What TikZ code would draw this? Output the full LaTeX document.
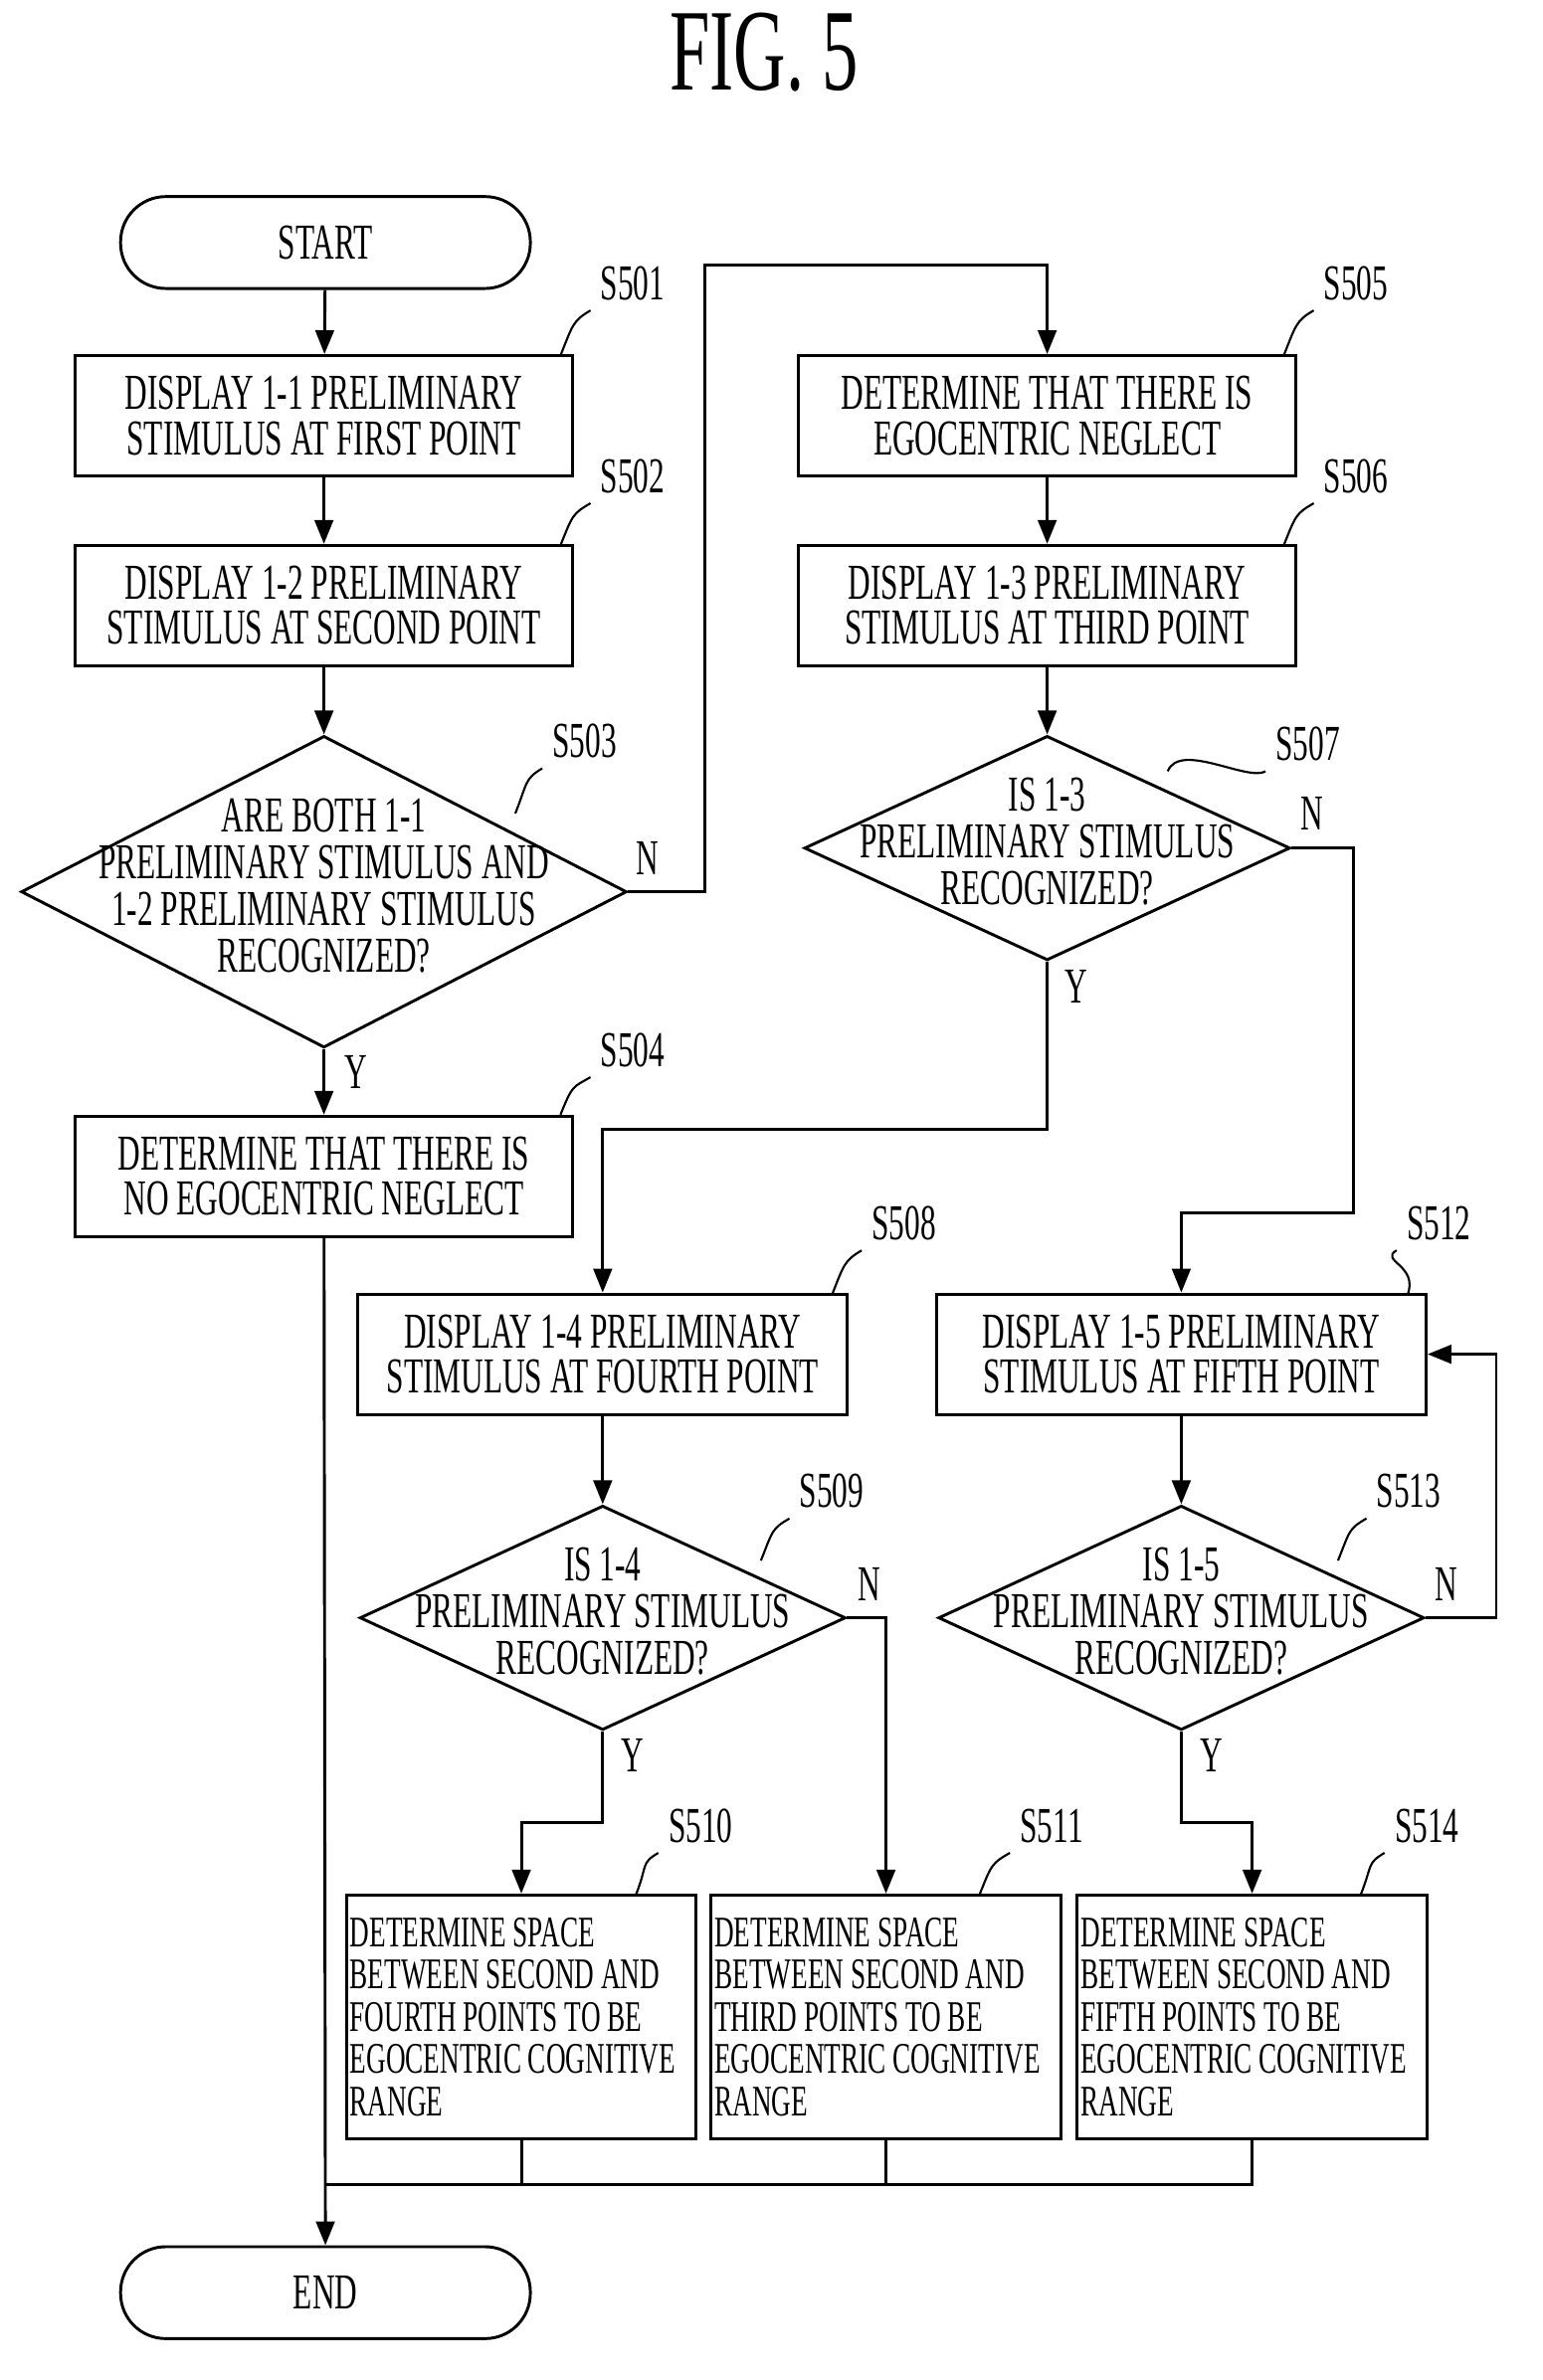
\documentclass[tikz,border=0pt]{standalone}
\usepackage{fontspec}
\setmainfont[FakeStretch=0.62]{Liberation Serif}
\usetikzlibrary{shapes.geometric,arrows.meta}

\begin{document}
\begin{tikzpicture}[x=0.02cm,y=-0.02cm,line width=1.1pt,
  font=\fontsize{19}{17}\selectfont]

\tikzstyle{term} = [draw,rounded corners=0.6cm,minimum width=5.44cm,minimum height=1.22cm]
\tikzstyle{proc} = [draw,minimum width=6.6cm,minimum height=1.6cm,align=center,inner sep=1pt]
\tikzstyle{res} = [draw,minimum width=4.64cm,minimum height=3.24cm,text width=4.55cm,align=flush left,
  inner sep=1pt,font=\fontsize{16.5}{16}\selectfont]
\tikzstyle{dec} = [draw,diamond,minimum width=6.45cm,minimum height=2.98cm,inner sep=0]
\tikzstyle{steplabel} = [font=\fontsize{19}{17}\selectfont]
\tikzstyle{flow} = [-{Triangle[length=9pt,width=7pt]}]

\useasboundingbox (0,0) rectangle (1024,1580);

\node[font=\fontsize{44}{44}\selectfont] (title) at (507,35) {FIG. 5};

\node[term] (start) at (216,161) {START};
\node[proc] (s501) at (215,276) {DISPLAY 1-1 PRELIMINARY\\STIMULUS AT FIRST POINT};
\node[proc] (s502) at (215,402) {DISPLAY 1-2 PRELIMINARY\\STIMULUS AT SECOND POINT};
\node[dec,minimum width=8.04cm,minimum height=4.14cm,
  label={center:{\begin{tabular}{c}ARE BOTH 1-1\\PRELIMINARY STIMULUS AND\\1-2 PRELIMINARY STIMULUS\\RECOGNIZED?\end{tabular}}}] (s503) at (215,592) {};
\node[proc] (s504) at (215,781) {DETERMINE THAT THERE IS\\NO EGOCENTRIC NEGLECT};
\node[proc] (s505) at (695,276) {DETERMINE THAT THERE IS\\EGOCENTRIC NEGLECT};
\node[proc] (s506) at (695,402) {DISPLAY 1-3 PRELIMINARY\\STIMULUS AT THIRD POINT};
\node[dec,label={center:{\begin{tabular}{c}IS 1-3\\PRELIMINARY STIMULUS\\RECOGNIZED?\end{tabular}}}] (s507) at (695,563) {};
\node[proc,minimum width=6.5cm] (s508) at (400,899) {DISPLAY 1-4 PRELIMINARY\\STIMULUS AT FOURTH POINT};
\node[dec,label={center:{\begin{tabular}{c}IS 1-4\\PRELIMINARY STIMULUS\\RECOGNIZED?\end{tabular}}}] (s509) at (400,1074) {};
\node[proc,minimum width=6.5cm] (s512) at (784,899) {DISPLAY 1-5 PRELIMINARY\\STIMULUS AT FIFTH POINT};
\node[dec,label={center:{\begin{tabular}{c}IS 1-5\\PRELIMINARY STIMULUS\\RECOGNIZED?\end{tabular}}}] (s513) at (784,1074) {};
\node[res] (s510) at (346,1339) {DETERMINE SPACE\\BETWEEN SECOND AND\\FOURTH POINTS TO BE\\EGOCENTRIC COGNITIVE\\RANGE};
\node[res] (s511) at (588,1339) {DETERMINE SPACE\\BETWEEN SECOND AND\\THIRD POINTS TO BE\\EGOCENTRIC COGNITIVE\\RANGE};
\node[res] (s514) at (831,1339) {DETERMINE SPACE\\BETWEEN SECOND AND\\FIFTH POINTS TO BE\\EGOCENTRIC COGNITIVE\\RANGE};
\node[term] (end) at (216,1522) {END};

% step labels
\foreach \n/\x/\y/\cx/\cy in {501/420/188/372/236, 502/420/316/372/362, 503/388/492/342/540,
  504/420/697/372/740, 505/900/188/852/236, 506/900/316/852/362, 507/868/494/775/512,
  508/600/812/552/860, 509/552/990/505/1036, 512/955/812/934/860, 513/935/990/888/1036,
  510/465/1212/422/1258, 511/698/1212/650/1258, 514/947/1212/903/1258}
{
  \node[steplabel] (l\n) at (\x,\y) {S\n};
  \draw[line width=0.8pt] (\cx,\cy) .. controls (\cx+8,\cy-20) and (\x-40,\y+25) .. (l\n.south west);
}

\node (n503) at (430,570) {N};
\node (y503) at (236,712) {Y};
\node (n507) at (871,540) {N};
\node (y507) at (714,655) {Y};
\node (n509) at (577,1052) {N};
\node (y509) at (420,1165) {Y};
\node (n513) at (960,1052) {N};
\node (y513) at (804,1165) {Y};

\coordinate (bus) at (215,1450);

\draw[flow] (start) -- (s501);
\draw[flow] (s501) -- (s502);
\draw[flow] (s502) -- (s503);
\draw[flow] (s503) -- (s504);
\draw[flow] (s503.east) -- ++(51,0) |- (580,176) -| (s505.north);
\draw[flow] (s505) -- (s506);
\draw[flow] (s506) -- (s507);
\draw[flow] (s507.south) |- (400,750) -- (s508.north);
\draw[flow] (s507.east) -- (898,563) |- (784,805) -- (s512.north);
\draw[flow] (s508) -- (s509);
\draw[flow] (s512) -- (s513);
\draw[flow] (s509.south) |- (346,1210) -- (s510.north);
\draw[flow] (s509.east) -| (s511.north);
\draw[flow] (s513.south) |- (831,1210) -- (s514.north);
\draw[flow] (s513.east) -- (993,1074) |- (s512.east);
\draw (s510.south) |- (bus);
\draw (s511.south) -- (588,1450);
\draw (s514.south) |- (bus);
\draw[flow] (s504) -- (end);

\end{tikzpicture}
\end{document}
